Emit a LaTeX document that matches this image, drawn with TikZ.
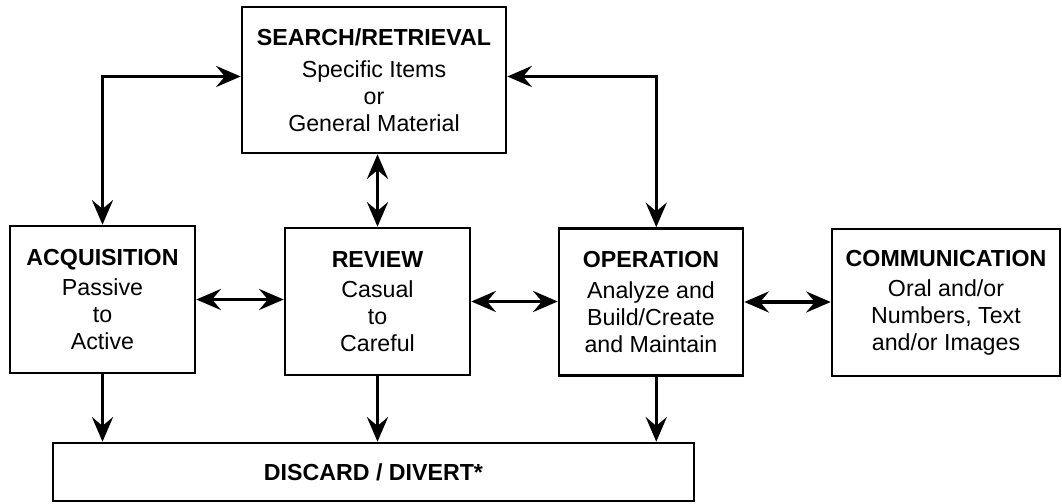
\documentclass[tikz,border=0pt]{standalone}
\usepackage{fontspec}
\setmainfont{Liberation Sans}
\usetikzlibrary{arrows.meta}
\tikzset{
  blk/.style={draw, line width=1.5pt, align=center, inner sep=0pt,
              minimum height=2.94cm, font=\fontsize{13.2}{15.3}\selectfont},
  lnk/.style={line width=1.8pt, {Stealth[length=14pt,width=12pt,inset=5pt]}-{Stealth[length=14pt,width=12pt,inset=5pt]}},
  dn/.style={line width=1.8pt, -{Stealth[length=14pt,width=12pt,inset=5pt]}}
}

\begin{document}
\begin{tikzpicture}
      \useasboundingbox (0,0) rectangle (21.24,-10.08);
      \node[blk, minimum width=5.28cm, minimum height=2.92cm] (search) at (7.48,-1.60) {\textbf{SEARCH/RETRIEVAL}\\[3pt] Specific Items\\ or\\ General Material};
      \node[blk, minimum width=3.70cm] (acq) at (2.05,-5.99) {\textbf{ACQUISITION}\\[2pt] Passive\\ to\\ Active};
      \node[blk, minimum width=3.70cm] (review) at (7.55,-6.03) {\textbf{REVIEW}\\[2pt] Casual\\ to\\ Careful};
      \node[blk, minimum width=3.68cm] (oper) at (13.02,-6.04) {\textbf{OPERATION}\\[2pt] Analyze and\\ Build/Create\\ and Maintain};
      \node[blk, minimum width=4.56cm] (comm) at (18.92,-6.05) {\textbf{COMMUNICATION}\\[2pt] Oral and/or\\ Numbers, Text\\ and/or Images};
      \node[blk, minimum width=12.82cm, minimum height=1.16cm] (discard) at (7.47,-9.44) {\textbf{DISCARD / DIVERT*}};
      \draw[lnk] (acq.north) |- ([yshift=2pt]search.west);
      \draw[lnk] ([yshift=2pt]search.east) -| ([xshift=3pt]oper.north);
      \draw[lnk] (search.south -| review.north) -- (review.north);
      \draw[lnk] (acq.east) -- (acq.east -| review.west);
      \draw[lnk] (review.east) -- (review.east -| oper.west);
      \draw[lnk] (oper.east) -- (oper.east -| comm.west);
      \draw[dn] (acq.south) -- (acq.south |- discard.north);
      \draw[dn] (review.south) -- (review.south |- discard.north);
      \draw[dn] ([xshift=3pt]oper.south) -- ([xshift=3pt]oper.south |- discard.north);
\end{tikzpicture}
\end{document}
